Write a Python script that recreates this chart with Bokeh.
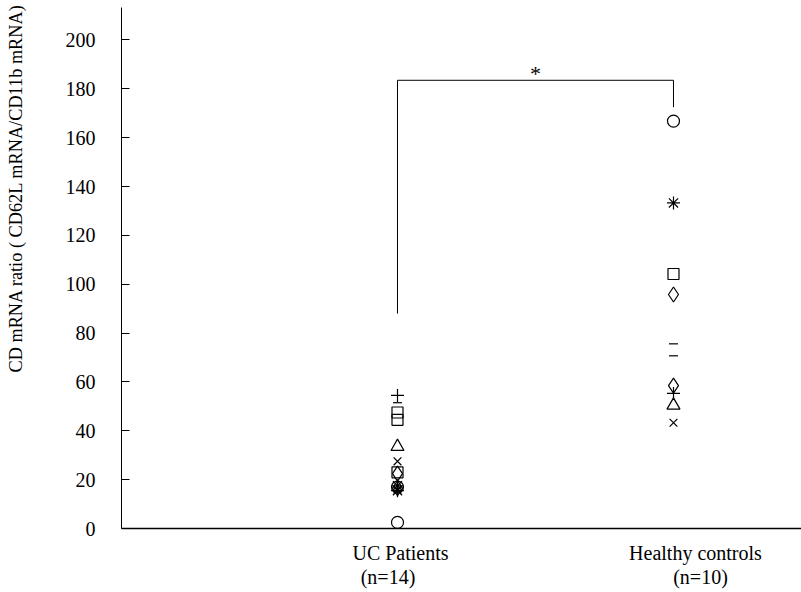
from bokeh.plotting import figure
from bokeh.models import Range1d, Label, FixedTicker, ColumnDataSource
from bokeh.embed import file_html
from bokeh.resources import INLINE

# ---- data ----
groups = ["UC Patients", "Healthy controls"]
group_n = ["(n=14)", "(n=10)"]
y_ticks = [0, 20, 40, 60, 80, 100, 120, 140, 160, 180, 200]

uc_values = [54.5, 51.5, 47.5, 44.5, 33.5, 27.5, 23.0, 22.5, 17.5, 16.5, 16.0, 17.0, 15.5, 2.5]
uc_markers = ["cross", "dash", "square", "square", "triangle", "x", "square", "diamond",
              "asterisk", "diamond", "x", "circle", "asterisk", "circle"]
hc_values = [166.8, 133.3, 104.2, 95.8, 75.6, 70.7, 58.5, 55.3, 50.4, 43.3]
hc_markers = ["circle", "asterisk", "square", "diamond", "dash", "dash", "diamond",
              "cross", "triangle", "x"]

# significance bracket (value levels)
bracket_left_bottom = 88
bracket_top = 183.5
bracket_right_bottom = 172.5
sig_text = "*"
y_title = "CD mRNA ratio ( CD62L mRNA/CD11b mRNA)"

FONT = "Liberation Serif"
marker_size = {"circle": 12, "square": 11, "diamond": 15, "triangle": 13, "x": 11,
               "asterisk": 13, "cross": 13, "dash": 9}

X_END = 2.4638
PX_PER_UNIT = 680 / X_END
NB = "\u00a0"

xs, ys, ms, ss = [], [], [], []
for gi, (vals, mks) in enumerate([(uc_values, uc_markers), (hc_values, hc_markers)]):
    for v, m in zip(vals, mks):
        xs.append(gi + 1)
        ys.append(v)
        ms.append(m)
        ss.append(marker_size[m])
src = ColumnDataSource(dict(x=xs, y=ys, marker=ms, size=ss))

p = figure(width=801, height=592, output_backend="svg", toolbar_location=None,
           x_range=Range1d(0, X_END), y_range=Range1d(0, 213.3),
           min_border_left=121, min_border_right=0, min_border_top=7, min_border_bottom=64)
p.outline_line_color = None
p.xgrid.visible = False
p.ygrid.visible = False
p.background_fill_color = "white"
p.border_fill_color = "white"

# y axis
ya = p.yaxis[0]
ya.ticker = FixedTicker(ticks=y_ticks)
ya.major_tick_in = 8
ya.major_tick_out = 0
ya.minor_tick_in = 0
ya.minor_tick_out = 0
ya.major_label_standoff = 26
ya.major_label_text_font = FONT
ya.major_label_text_font_size = "20px"
ya.major_label_text_color = "black"
ya.axis_line_color = "black"
ya.major_tick_line_color = "black"
# leading non-breaking spaces push the (centred) title towards the top, as in the reference
ya.axis_label = NB * 35 + y_title
ya.axis_label_text_font = FONT
ya.axis_label_text_font_size = "18.3px"
ya.axis_label_text_font_style = "normal"
ya.axis_label_text_color = "black"
ya.axis_label_standoff = 37

# x axis: plain line with group labels
label_shift_px = [3, 22]
second_line = [group_n[0] + NB * 5, NB * 2 + group_n[1]]
tick_pos = [i + 1 + label_shift_px[i] / PX_PER_UNIT for i in range(len(groups))]
xa = p.xaxis[0]
xa.ticker = FixedTicker(ticks=tick_pos)
xa.major_label_overrides = {t: f"{g}\n{n}" for t, g, n in zip(tick_pos, groups, second_line)}
xa.major_tick_out = 0
xa.major_tick_in = 0
xa.minor_tick_in = 0
xa.minor_tick_out = 0
xa.major_label_standoff = 13
xa.major_label_text_font = FONT
xa.major_label_text_font_size = "20px"
xa.major_label_text_color = "black"
xa.major_label_text_line_height = 1.1
xa.axis_line_color = "black"
xa.axis_line_width = 1.3

# points
p.scatter("x", "y", marker="marker", size="size", source=src,
          line_color="black", fill_color=None, line_width=1.2)

# bracket
p.line([1, 1, 2, 2], [bracket_left_bottom, bracket_top, bracket_top, bracket_right_bottom],
       line_color="black", line_width=1)
p.add_layout(Label(x=1.5, y=bracket_top, text=sig_text, text_align="center",
                   text_baseline="alphabetic", y_offset=7, text_font=FONT,
                   text_font_size="22px", text_color="black"))

open("out.html", "w").write(file_html(p, INLINE))
